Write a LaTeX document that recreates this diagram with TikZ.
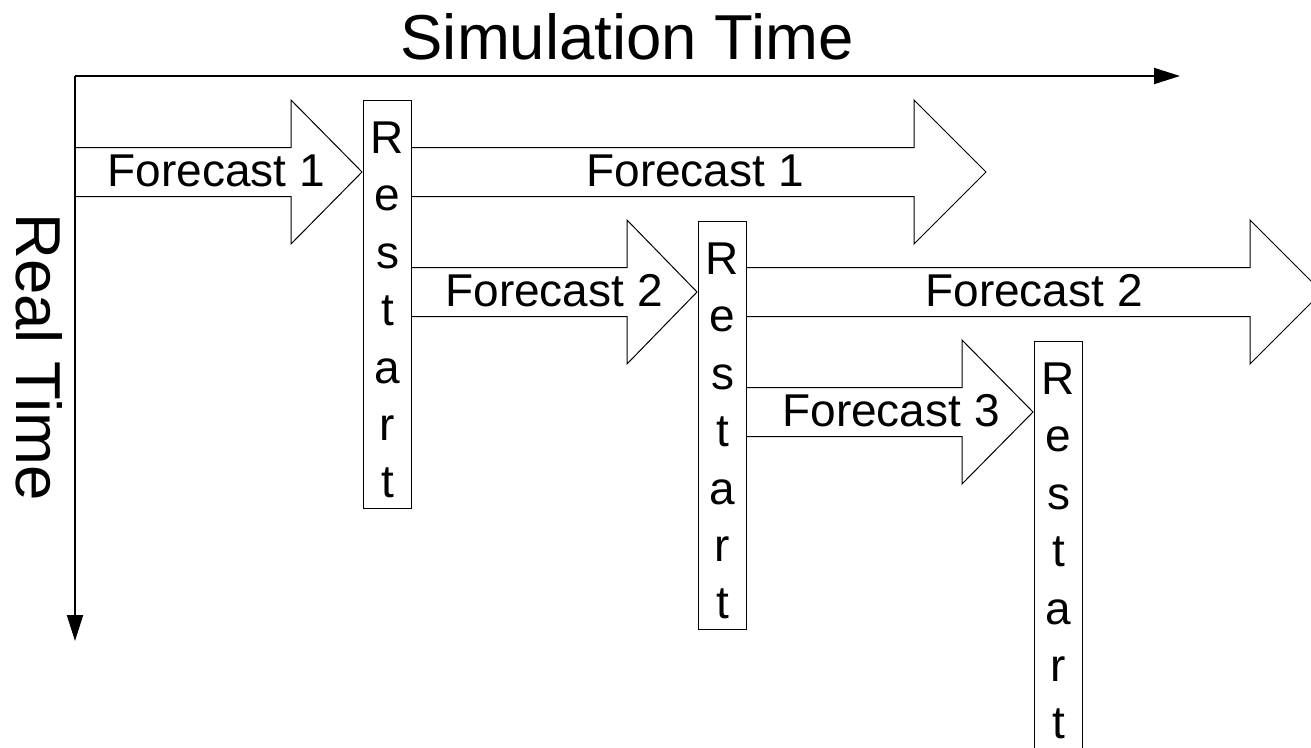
\documentclass[tikz,border=0pt]{standalone}
\usepackage{fontspec}
\setmainfont{Liberation Sans}
\usetikzlibrary{arrows.meta,calc}
\tikzset{
  axisarrow/.style={line width=2pt, -{Triangle[length=26pt,width=16pt]}},
  blockarr/.style={draw, line width=1pt, line join=miter},
  rbox/.style={draw, line width=1pt, minimum width=48pt, minimum height=408pt, anchor=north west, inner sep=0pt},
  flabel/.style={font=\fontsize{46}{55}\selectfont, inner sep=0pt},
  rletter/.style={font=\fontsize{46}{55}\selectfont, inner sep=0pt, anchor=base},
  titletext/.style={font=\fontsize{63.5}{70}\selectfont, inner sep=0pt},
}
% #1 x0, #2 x head, #3 x tip, #4 y centre
\newcommand\fcarrow[4]{%
  \draw[blockarr] (#1,#4-24.5) -- (#2,#4-24.5) -- (#2,#4-72) -- (#3,#4)
    -- (#2,#4+72) -- (#2,#4+24.5) -- (#1,#4+24.5);}
\begin{document}
\begin{tikzpicture}[x=1pt,y=-1pt]
\useasboundingbox (0,0) rectangle (1311,747);
\clip (0,0) rectangle (1311,747);

% axes
\coordinate (o) at (75,76);
\coordinate (xend) at (1180,76);
\coordinate (yend) at (75,641);
\draw[axisarrow] (o) -- (xend);
\draw[axisarrow] (o) -- (yend);
\node[titletext] (simt) at (627,37) {Simulation Time};
\node[titletext, rotate=-90] (realt) at (39,357) {Real Time};

% restart boxes
\node[rbox] (b1) at (363,100) {};
\node[rbox] (b2) at (698,221) {};
\node[rbox] (b3) at (1034,341) {};
\foreach \b in {b1,b2,b3}{
  \foreach \l [count=\i] in {R,e,s,t,a,r,t}{
    \node[rletter] (\b l\i) at ($(\b.north)+(0,{53.5+57.4*(\i-1)})$) {\l};
  }
}

% forecast arrows
\fcarrow{75}{291}{362}{172}
\node[flabel] (f1a) at (216.5,171) {Forecast 1};
\fcarrow{411}{914}{986}{172}
\node[flabel] (f1b) at (695,171) {Forecast 1};
\fcarrow{411}{627}{697}{292}
\node[flabel] (f2a) at (554,291) {Forecast 2};
\fcarrow{746}{1250}{1322}{292}
\node[flabel] (f2b) at (1034,291) {Forecast 2};
\fcarrow{746}{962}{1033}{412}
\node[flabel] (f3) at (891,411) {Forecast 3};
\end{tikzpicture}
\end{document}
